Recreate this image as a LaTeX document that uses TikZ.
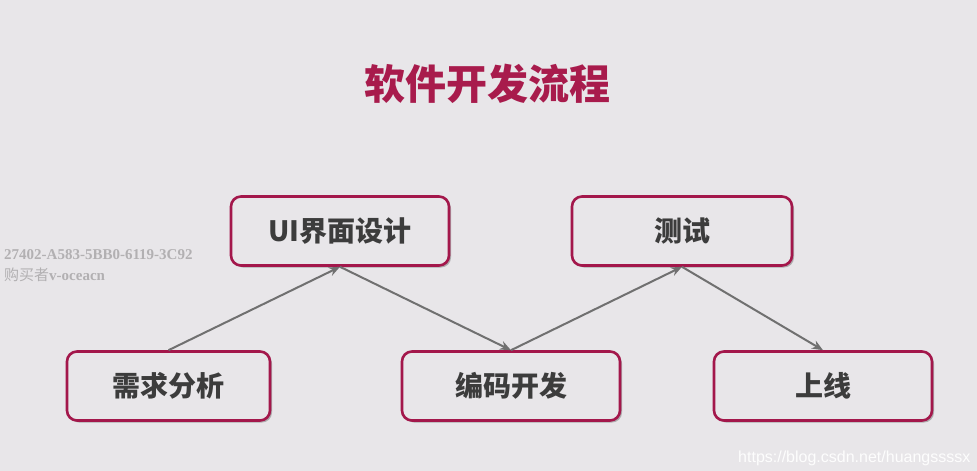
\documentclass[tikz,border=0pt]{standalone}
\usepackage{fontspec}
\setmainfont{Liberation Serif}
\newfontfamily\cjk{Noto Sans CJK SC}
\newfontfamily\urlfont{Liberation Sans}
\usetikzlibrary{shadows,arrows.meta}
\definecolor{bgc}{HTML}{E8E6E9}
\definecolor{crim}{HTML}{A3174B}
\definecolor{titlec}{HTML}{A81B4C}
\definecolor{txt}{HTML}{3C3C3C}
\definecolor{arr}{HTML}{707070}
\definecolor{wm}{HTML}{B2B0B2}
\tikzset{
  x=1pt, y=-1pt,
  stage/.style={draw=crim, line width=2.6pt, fill=bgc, rounded corners=10pt,
    minimum width=#1, minimum height=69pt, inner sep=0pt,
    font=\cjk\bfseries\fontsize{28}{32}\selectfont, text=txt,
    drop shadow={shadow xshift=2pt, shadow yshift=-2pt, opacity=0.25, fill=black}},
  flow/.style={draw=arr, line width=2pt, -{Stealth[length=11pt,width=9pt]}}
}
\begin{document}
\begin{tikzpicture}
\fill[bgc] (0,0) rectangle (977,471);
\useasboundingbox (0,0) rectangle (977,471);
\node[font=\cjk\bfseries\fontsize{41}{46}\selectfont, text=titlec] (title) at (487,84) {软件开发流程};
\node[stage=218pt] (ui) at (340,231) {UI界面设计};
\node[stage=220pt] (test) at (682,231) {测试};
\node[stage=203pt] (req) at (168.5,386) {需求分析};
\node[stage=218pt] (code) at (511,386) {编码开发};
\node[stage=218pt] (live) at (823,386) {上线};
\draw[flow] (req.north) -- (ui.south);
\draw[flow] (ui.south) -- (code.north);
\draw[flow] (code.north) -- (test.south);
\draw[flow] (test.south) -- (live.north);
\node[anchor=west, text=wm, font=\bfseries\fontsize{15}{17}\selectfont, inner sep=0pt] (wm1) at (4,255) {27402-A583-5BB0-6119-3C92};
\node[anchor=west, text=wm, font=\fontsize{15}{17}\selectfont, inner sep=0pt] (wm2) at (4,275) {{\cjk 购买者}\textbf{v-oceacn}};
\node[anchor=west, text=white!92!bgc, font=\urlfont\fontsize{16}{18}\selectfont, inner sep=0pt] (url) at (738,458) {https://blog.csdn.net/huangssssx};
\end{tikzpicture}
\end{document}
